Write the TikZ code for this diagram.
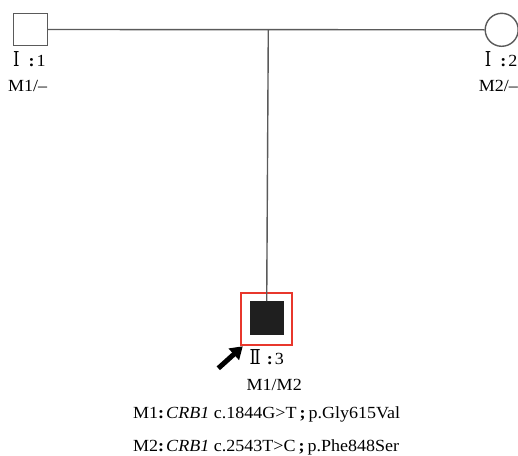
\documentclass[tikz,border=0pt]{standalone}
\usepackage{fontspec}
\setmainfont{Liberation Serif}[FakeStretch=1.06]
\newfontfamily\romfont{DejaVu Serif}[FakeStretch=0.8]
\usetikzlibrary{arrows.meta}
\definecolor{lineg}{HTML}{5A5A5A}
\definecolor{frred}{HTML}{E8372C}
\newcommand{\romI}{{\romfont\fontsize{20.5}{20.5}\selectfont Ⅰ}}
\newcommand{\romII}{{\romfont\fontsize{20.5}{20.5}\selectfont Ⅱ}}
\newcommand{\pcol}{\textbf{:}}
\tikzset{
  conn/.style={draw=lineg, line width=1.4pt},
  person/.style={draw=lineg, line width=1.4pt, minimum size=33pt, inner sep=0pt},
  lbl/.style={font=\fontsize{17}{19}\selectfont, inner sep=0pt, anchor=base west},
  mut/.style={font=\fontsize{17}{19}\selectfont, inner sep=0pt, anchor=base west},
}
\begin{document}
\begin{tikzpicture}[x=1pt,y=-1pt]
\useasboundingbox (0,0) rectangle (518,455);
\fill[white] (0,0) rectangle (518,455);
\node[person, rectangle, minimum width=34pt, minimum height=32pt] (i1) at (30.3,29.5) {};
\node[person, circle, minimum size=33pt] (i2) at (501.7,29.8) {};
\draw[conn] (i1.east) -- (i2.west);
\coordinate (mid) at (268.3,29.5);
\node[person, rectangle, fill=black!88, draw=black!88, minimum width=33pt, minimum height=32pt] (ii3) at (266.7,317.8) {};
\node[draw=frred, line width=2pt, minimum width=51pt, minimum height=51.5pt, inner sep=0pt] (frame) at (266.2,319.2) {};
\draw[conn] (mid) -- (ii3.north);
\coordinate (tail) at (218.3,368.3);
\coordinate (tip) at (242.7,346.3);
\draw[line width=5pt, -{Triangle[length=12pt,width=15pt]}] (tail) -- (tip);
\node[lbl] (t1) at (13,66.5) {\romI\hspace{9pt}\pcol\hspace{2pt}1};
\node[lbl] (g1) at (8,91) {M1/–};
\node[lbl, anchor=base east] (t2) at (517.5,66.5) {\romI\hspace{9pt}\pcol\hspace{2pt}2};
\node[lbl, anchor=base east] (g2) at (518,91) {M2/–};
\node[lbl] (t3) at (249.5,364) {\romII\hspace{6pt}\pcol\hspace{2pt}3};
\node[lbl] (g3) at (246.5,390) {M1/M2};
\node[mut] (m1) at (133,418) {M1\pcol\hspace{2pt}\textit{CRB1} c.1844G>T\hspace{3pt}\textbf{;}\hspace{3pt}p.Gly615Val};
\node[mut] (m2) at (133,451) {M2\pcol\hspace{2pt}\textit{CRB1} c.2543T>C\hspace{3pt}\textbf{;}\hspace{3pt}p.Phe848Ser};
\end{tikzpicture}
\end{document}
